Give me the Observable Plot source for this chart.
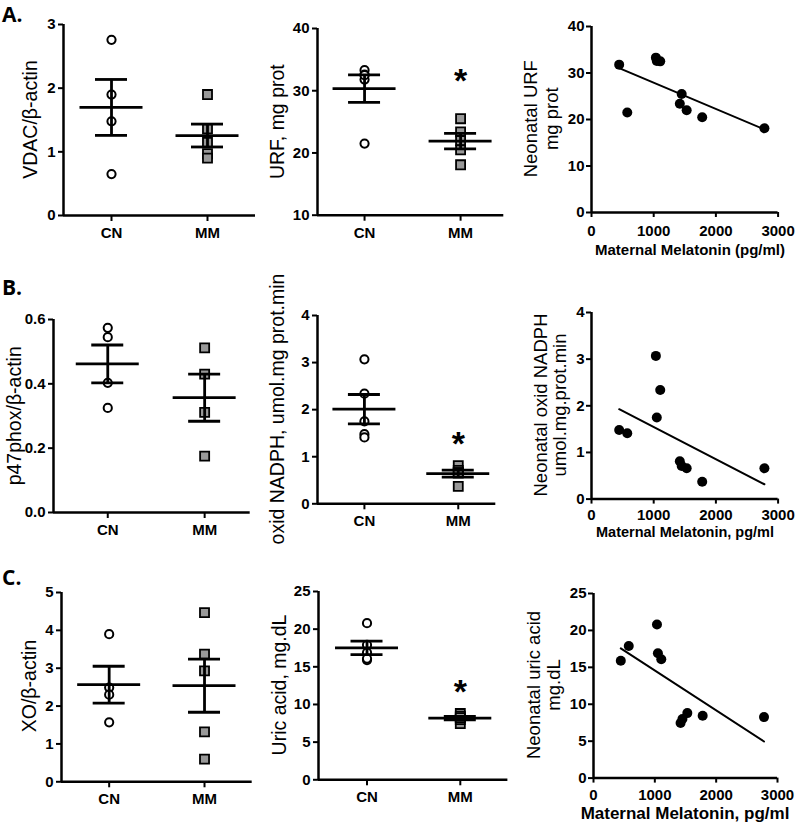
<!DOCTYPE html>
<html>
<head>
<meta charset="utf-8">
<script src="https://cdn.jsdelivr.net/npm/d3@7"></script>
<script src="https://cdn.jsdelivr.net/npm/@observablehq/plot@0.6"></script>
<style>
  body { margin: 0; background: #fff; }
  #fig { position: relative; width: 796px; height: 825px; overflow: hidden; background: #fff; }
  #fig g[aria-label*="axis"] path, #fig g[aria-label*="axis"] line { stroke-width: 2px; }
</style>
</head>
<body>
<div id="fig"></div>
<script>
// ---------------- data ----------------
const groups = ["CN", "MM"];

// protein ratios (left column)
const vdacCN = [2.76, 1.90, 1.48, 0.65];
const vdacMM = [1.90, 1.36, 1.15, 0.97, 0.90];
const p47CN = [0.574, 0.545, 0.403, 0.325];
const p47MM = [0.512, 0.430, 0.311, 0.175];
const xoCN = [3.90, 2.49, 2.30, 1.57];
const xoMM = [4.47, 3.37, 2.93, 1.32, 0.60];

// neonatal measurements vs maternal melatonin (middle + right columns)
const neonatalGroup = ["CN", "CN", "CN", "CN", "CN", "MM", "MM", "MM", "MM", "MM"];
const melatonin = [445, 575, 1035, 1050, 1105, 1420, 1450, 1530, 1780, 2780];
const urf = [31.8, 21.5, 33.3, 32.6, 32.5, 23.4, 25.5, 22.0, 20.5, 18.1];
const nadph = [1.48, 1.41, 3.07, 1.75, 2.34, 0.81, 0.71, 0.66, 0.37, 0.66];
const uric = [15.9, 17.9, 20.8, 16.9, 16.1, 7.45, 8.0, 8.8, 8.44, 8.26];

// significance star heights (value units)
const starURF = 33;
const starNADPH = 1.465;
const starUric = 12.9;

// tick values
const ticksVDAC = [0, 1, 2, 3];
const ticksURFgroup = [10, 20, 30, 40];
const ticksURF = [0, 10, 20, 30, 40];
const ticksP47 = [0, 0.2, 0.4, 0.6];
const ticksNADPH = [0, 1, 2, 3, 4];
const ticksXO = [0, 1, 2, 3, 4, 5];
const ticksUric = [0, 5, 10, 15, 20, 25];
const ticksMelatonin = [0, 1000, 2000, 3000];

// ---------------- layout ----------------
const fig = document.getElementById("fig");
const M = {l: 45, r: 14, t: 14, b: 32};
const baseStyle = {
  background: "transparent", color: "black",
  fontFamily: "'Liberation Sans', Arial, sans-serif",
  fontSize: "15px", fontWeight: "bold", overflow: "visible"
};
function place(el, left, top) {
  el.style.position = "absolute";
  el.style.left = left + "px";
  el.style.top = top + "px";
  fig.appendChild(el);
}
const byGroup = (arr, g) => arr.filter((_, i) => neonatalGroup[i] === g);

function groupPanel({cn, mm, yDomain, yTicks, yFormat, xDomain, star, frame}) {
  const [fL, fR, fT, fB] = frame;
  const rowsCN = cn.map(v => ({g: 1, v}));
  const rowsMM = mm.map(v => ({g: 2, v}));
  const stats = [cn, mm].map((vals, i) => {
    const m = d3.mean(vals), s = d3.deviation(vals) / Math.sqrt(vals.length);
    return {g: i + 1, mean: m, lo: m - s, hi: m + s};
  });
  const ppu = (fR - fL) / (xDomain[1] - xDomain[0]);
  const mw = 31.5 / ppu, cw = 16 / ppu;
  const line = {stroke: "black", strokeWidth: 2.8};
  const marks = [
    Plot.ruleX([xDomain[0]], {stroke: "black", strokeWidth: 2.5}),
    Plot.ruleY([yDomain[0]], {stroke: "black", strokeWidth: 2.5}),
    Plot.dot(rowsCN, {x: "g", y: "v", r: 4.1, fill: "white", stroke: "black", strokeWidth: 2}),
    Plot.dot(rowsMM, {x: "g", y: "v", symbol: "square", r: 5.1, fill: "#999999", stroke: "black", strokeWidth: 1.8}),
    Plot.ruleY(stats, {y: "mean", x1: d => d.g - mw, x2: d => d.g + mw, ...line}),
    Plot.ruleY(stats, {y: "hi", x1: d => d.g - cw, x2: d => d.g + cw, ...line}),
    Plot.ruleY(stats, {y: "lo", x1: d => d.g - cw, x2: d => d.g + cw, ...line}),
    Plot.ruleX(stats, {x: "g", y1: "lo", y2: "hi", ...line})
  ];
  if (star != null) {
    marks.push(Plot.text([star], {x: () => 2, y: d => d, text: () => "*", fontSize: 34, fontWeight: "bold", dy: 9, fill: "black"}));
  }
  const svg = Plot.plot({
    width: fR - fL + M.l + M.r, height: fB - fT + M.t + M.b,
    marginLeft: M.l, marginRight: M.r, marginTop: M.t, marginBottom: M.b,
    x: {domain: xDomain, ticks: [1, 2], tickFormat: d => groups[d - 1], tickSize: 6, tickPadding: 6, label: null},
    y: {domain: yDomain, ticks: yTicks, tickFormat: yFormat || (d => String(d)), tickSize: 5, tickPadding: 3, label: null},
    style: baseStyle,
    marks
  });
  place(svg, fL - M.l, fT - M.t);
}

function scatterPanel({ys, yDomain, yTicks, frame, xPad}) {
  const [fL, fR, fT, fB] = frame;
  const rows = melatonin.map((x, i) => ({x, y: ys[i]}));
  const svg = Plot.plot({
    width: fR - fL + M.l + M.r, height: fB - fT + M.t + M.b,
    marginLeft: M.l, marginRight: M.r, marginTop: M.t, marginBottom: M.b,
    x: {domain: [0, 3000], ticks: ticksMelatonin, tickFormat: d3.format("d"), tickSize: 5, tickPadding: xPad, label: null},
    y: {domain: yDomain, ticks: yTicks, tickFormat: d => String(d), tickSize: 5, tickPadding: 2, label: null},
    style: baseStyle,
    marks: [
      Plot.ruleX([0], {stroke: "black", strokeWidth: 2.5}),
      Plot.ruleY([0], {stroke: "black", strokeWidth: 2.5}),
      Plot.linearRegressionY(rows, {x: "x", y: "y", ci: 0, stroke: "black", strokeWidth: 2}),
      Plot.dot(rows, {x: "x", y: "y", r: 5, fill: "black"})
    ]
  });
  place(svg, fL - M.l, fT - M.t);
}

// Row A
groupPanel({cn: vdacCN, mm: vdacMM, yDomain: [0, 3], yTicks: ticksVDAC, xDomain: [0.5, 2.5], frame: [63, 255, 24, 215]});
groupPanel({cn: byGroup(urf, "CN"), mm: byGroup(urf, "MM"), yDomain: [10, 40], yTicks: ticksURFgroup, xDomain: [0.51, 2.45], star: starURF, frame: [316.7, 503, 28.3, 215]});
scatterPanel({ys: urf, yDomain: [0, 40], yTicks: ticksURF, xPad: 8, frame: [590.7, 777.3, 25.7, 211.7]});
// Row B
groupPanel({cn: p47CN, mm: p47MM, yDomain: [0, 0.6], yTicks: ticksP47, yFormat: d3.format(".1f"), xDomain: [0.44, 2.47], frame: [53.3, 250, 319.3, 512.3]});
groupPanel({cn: byGroup(nadph, "CN"), mm: byGroup(nadph, "MM"), yDomain: [0, 4], yTicks: ticksNADPH, xDomain: [0.5, 2.4], star: starNADPH, frame: [316.7, 495, 315, 503.3]});
scatterPanel({ys: nadph, yDomain: [0, 4], yTicks: ticksNADPH, xPad: 5.5, frame: [590.7, 777.3, 311.7, 498.3]});
// Row C
groupPanel({cn: xoCN, mm: xoMM, yDomain: [0, 5], yTicks: ticksXO, xDomain: [0.5, 2.5], frame: [61, 251.7, 591.7, 781]});
groupPanel({cn: byGroup(uric, "CN"), mm: byGroup(uric, "MM"), yDomain: [0, 25], yTicks: ticksUric, xDomain: [0.48, 2.51], star: starUric, frame: [318.3, 507.7, 590.7, 779]});
scatterPanel({ys: uric, yDomain: [0, 25], yTicks: ticksUric, xPad: 6, frame: [593.3, 777.3, 592.7, 777.3]});

// ---------------- titles overlay ----------------
const overlay = d3.create("svg").attr("width", 796).attr("height", 825)
  .style("position", "absolute").style("left", "0px").style("top", "0px")
  .style("pointer-events", "none").style("overflow", "visible");
const SANS = "'Liberation Sans', Arial, sans-serif";
function label(text, x, y, {rotate = 0, size = 19.5, weight = "normal", family = SANS, anchor = "middle"} = {}) {
  overlay.append("text")
    .attr("transform", `translate(${x},${y})` + (rotate ? ` rotate(${rotate})` : ""))
    .attr("text-anchor", anchor)
    .attr("font-family", family).attr("font-size", size).attr("font-weight", weight)
    .attr("fill", "black").text(text);
}
// panel letters
const LET = "'Open Sans', 'DejaVu Sans', sans-serif";
label("A.", 2, 22, {size: 21, weight: "bold", family: LET, anchor: "start"});
label("B.", 2, 295, {size: 21, weight: "bold", family: LET, anchor: "start"});
label("C.", 2, 585, {size: 21, weight: "bold", family: LET, anchor: "start"});
// group-panel y titles
label("VDAC/\u03b2-actin", 37, 119.5, {rotate: -90});
label("URF, mg prot", 284, 121.7, {rotate: -90});
label("p47phox/\u03b2-actin", 21, 415.8, {rotate: -90});
label("oxid NADPH, umol.mg prot.min", 284.3, 409, {rotate: -90});
label("XO/\u03b2-actin", 35.5, 686, {rotate: -90});
label("Uric acid, mg.dL", 285.7, 685, {rotate: -90});
// scatter y titles
label("Neonatal URF", 537, 118.7, {rotate: -90, size: 18.5});
label("mg prot", 557.5, 118.7, {rotate: -90, size: 18.5});
label("Neonatal oxid NADPH", 546.5, 405, {rotate: -90, size: 18.5});
label("umol.mg.prot.min", 566, 405, {rotate: -90, size: 18.5});
label("Neonatal uric acid", 540, 685, {rotate: -90, size: 18.5});
label("mg.dL", 559.5, 685, {rotate: -90, size: 18.5});
// scatter x titles
label("Maternal Melatonin (pg/ml)", 690, 255, {size: 15, weight: "bold"});
label("Maternal Melatonin, pg/ml", 685, 537, {size: 14.5, weight: "bold"});
label("Maternal Melatonin, pg/ml", 685, 819, {size: 17, weight: "bold"});
fig.appendChild(overlay.node());
</script>
</body>
</html>
